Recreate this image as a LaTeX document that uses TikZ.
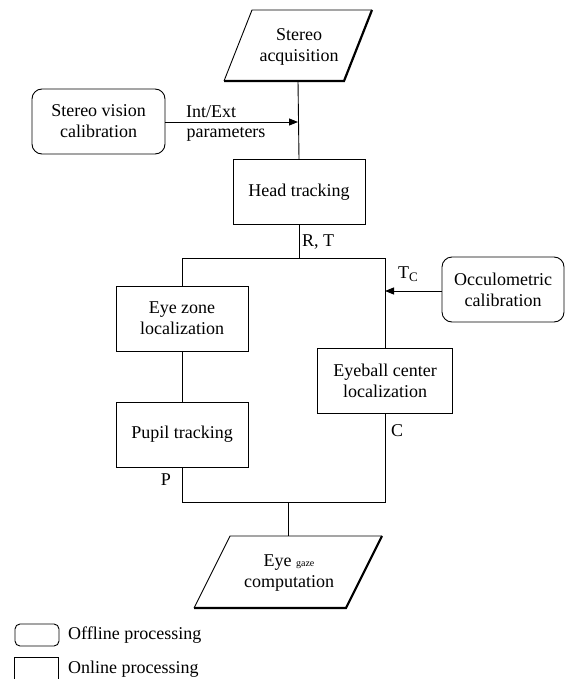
\documentclass[tikz,border=0pt]{standalone}
\usepackage{fontspec}
\setmainfont{Liberation Serif}
\usetikzlibrary{arrows.meta}
\begin{document}
\begin{tikzpicture}[x=1pt,y=-1pt,
  every node/.style={font=\fontsize{18}{21}\selectfont, inner sep=0pt},
  box/.style={draw, line width=0.9pt, minimum width=132pt, minimum height=65pt, align=center},
  rbox/.style={box, rounded corners=10pt},
  wire/.style={line width=0.9pt},
  arr/.style={wire, -{Triangle[length=9pt,width=7pt]}},
  lbl/.style={anchor=center}]
\useasboundingbox (0,0) rectangle (573,679);
% Stereo acquisition parallelogram
\coordinate (a1) at (252,10);
\coordinate (a2) at (372,10);
\coordinate (a3) at (344,81);
\coordinate (a4) at (224,81);
\draw[wire] (a4) -- (a1) -- (a2);
\draw[line width=2.2pt] (a2) -- (a3) -- (a4);
\node[align=center] (acq) at (299,47) {Stereo\\acquisition};
\coordinate (acqB) at (298,81);
% Head tracking
\node[box] (head) at (299,192) {Head tracking};
\coordinate (j1) at (298,122);
\draw[wire] (acqB) -- (head.north);
% Stereo vision calibration
\node[rbox, minimum width=133pt] (svc) at (98.5,121.5) {Stereo vision\\calibration};
\draw[arr] (svc.east |- j1) -- (j1);
\node[lbl] (ie) at (211,112) {Int/Ext};
\node[lbl] (par) at (226,134) {parameters};
% split
\coordinate (jt) at (299,258);
\coordinate (jl) at (182,258);
\coordinate (jr) at (385,258);
\draw[wire] (head.south) -- (jt);
\draw[wire] (jl) -- (jr);
\node[lbl] (rt) at (318,242) {R, T};
% left branch
\node[box] (eyez) at (182,318.5) {Eye zone\\localization};
\node[box] (pup) at (182,434.5) {Pupil tracking};
\draw[wire] (jl) -- (eyez.north);
\draw[wire] (eyez.south) -- (pup.north);
\node[lbl] (p) at (166,480) {P};
% right branch
\node[box, minimum width=135pt] (eyeb) at (385,380.5) {Eyeball center\\localization};
\draw[wire] (jr) -- (eyeb.north);
\node[rbox, minimum width=122pt] (occ) at (503,289.5) {Occulometric\\calibration};
\coordinate (ja) at (385,291);
\draw[arr] (occ.west |- ja) -- (ja);
\node[lbl] (tc) at (408,274) {T\raisebox{-3pt}{\fontsize{13}{13}\selectfont C}};
\node[lbl] (c) at (397,431) {C};
% merge
\coordinate (bl) at (182,502);
\coordinate (br) at (385,502);
\coordinate (bm) at (288,502);
\draw[wire] (pup.south) -- (bl) -- (br) -- (eyeb.south);
% Eye gaze parallelogram
\coordinate (g1) at (230,536);
\coordinate (g2) at (382,536);
\coordinate (g3) at (346,608);
\coordinate (g4) at (194,608);
\coordinate (gT) at (288,536);
\draw[wire] (g4) -- (g1) -- (g2);
\draw[line width=2.2pt] (g2) -- (g3) -- (g4);
\node[align=center] (gaze) at (289,573) {Eye {\fontsize{10}{10}\selectfont gaze}\\computation};
\draw[wire] (bm) -- (gT);
% legend
\node[draw, line width=0.9pt, rounded corners=5pt, minimum width=44pt, minimum height=22pt] (lg1) at (37,635) {};
\node[anchor=west] (lt1) at (68,635) {Offline processing};
\node[draw, line width=0.9pt, minimum width=44pt, minimum height=26pt] (lg2) at (36,670) {};
\node[anchor=west] (lt2) at (68,669) {Online processing};
\end{tikzpicture}
\end{document}
